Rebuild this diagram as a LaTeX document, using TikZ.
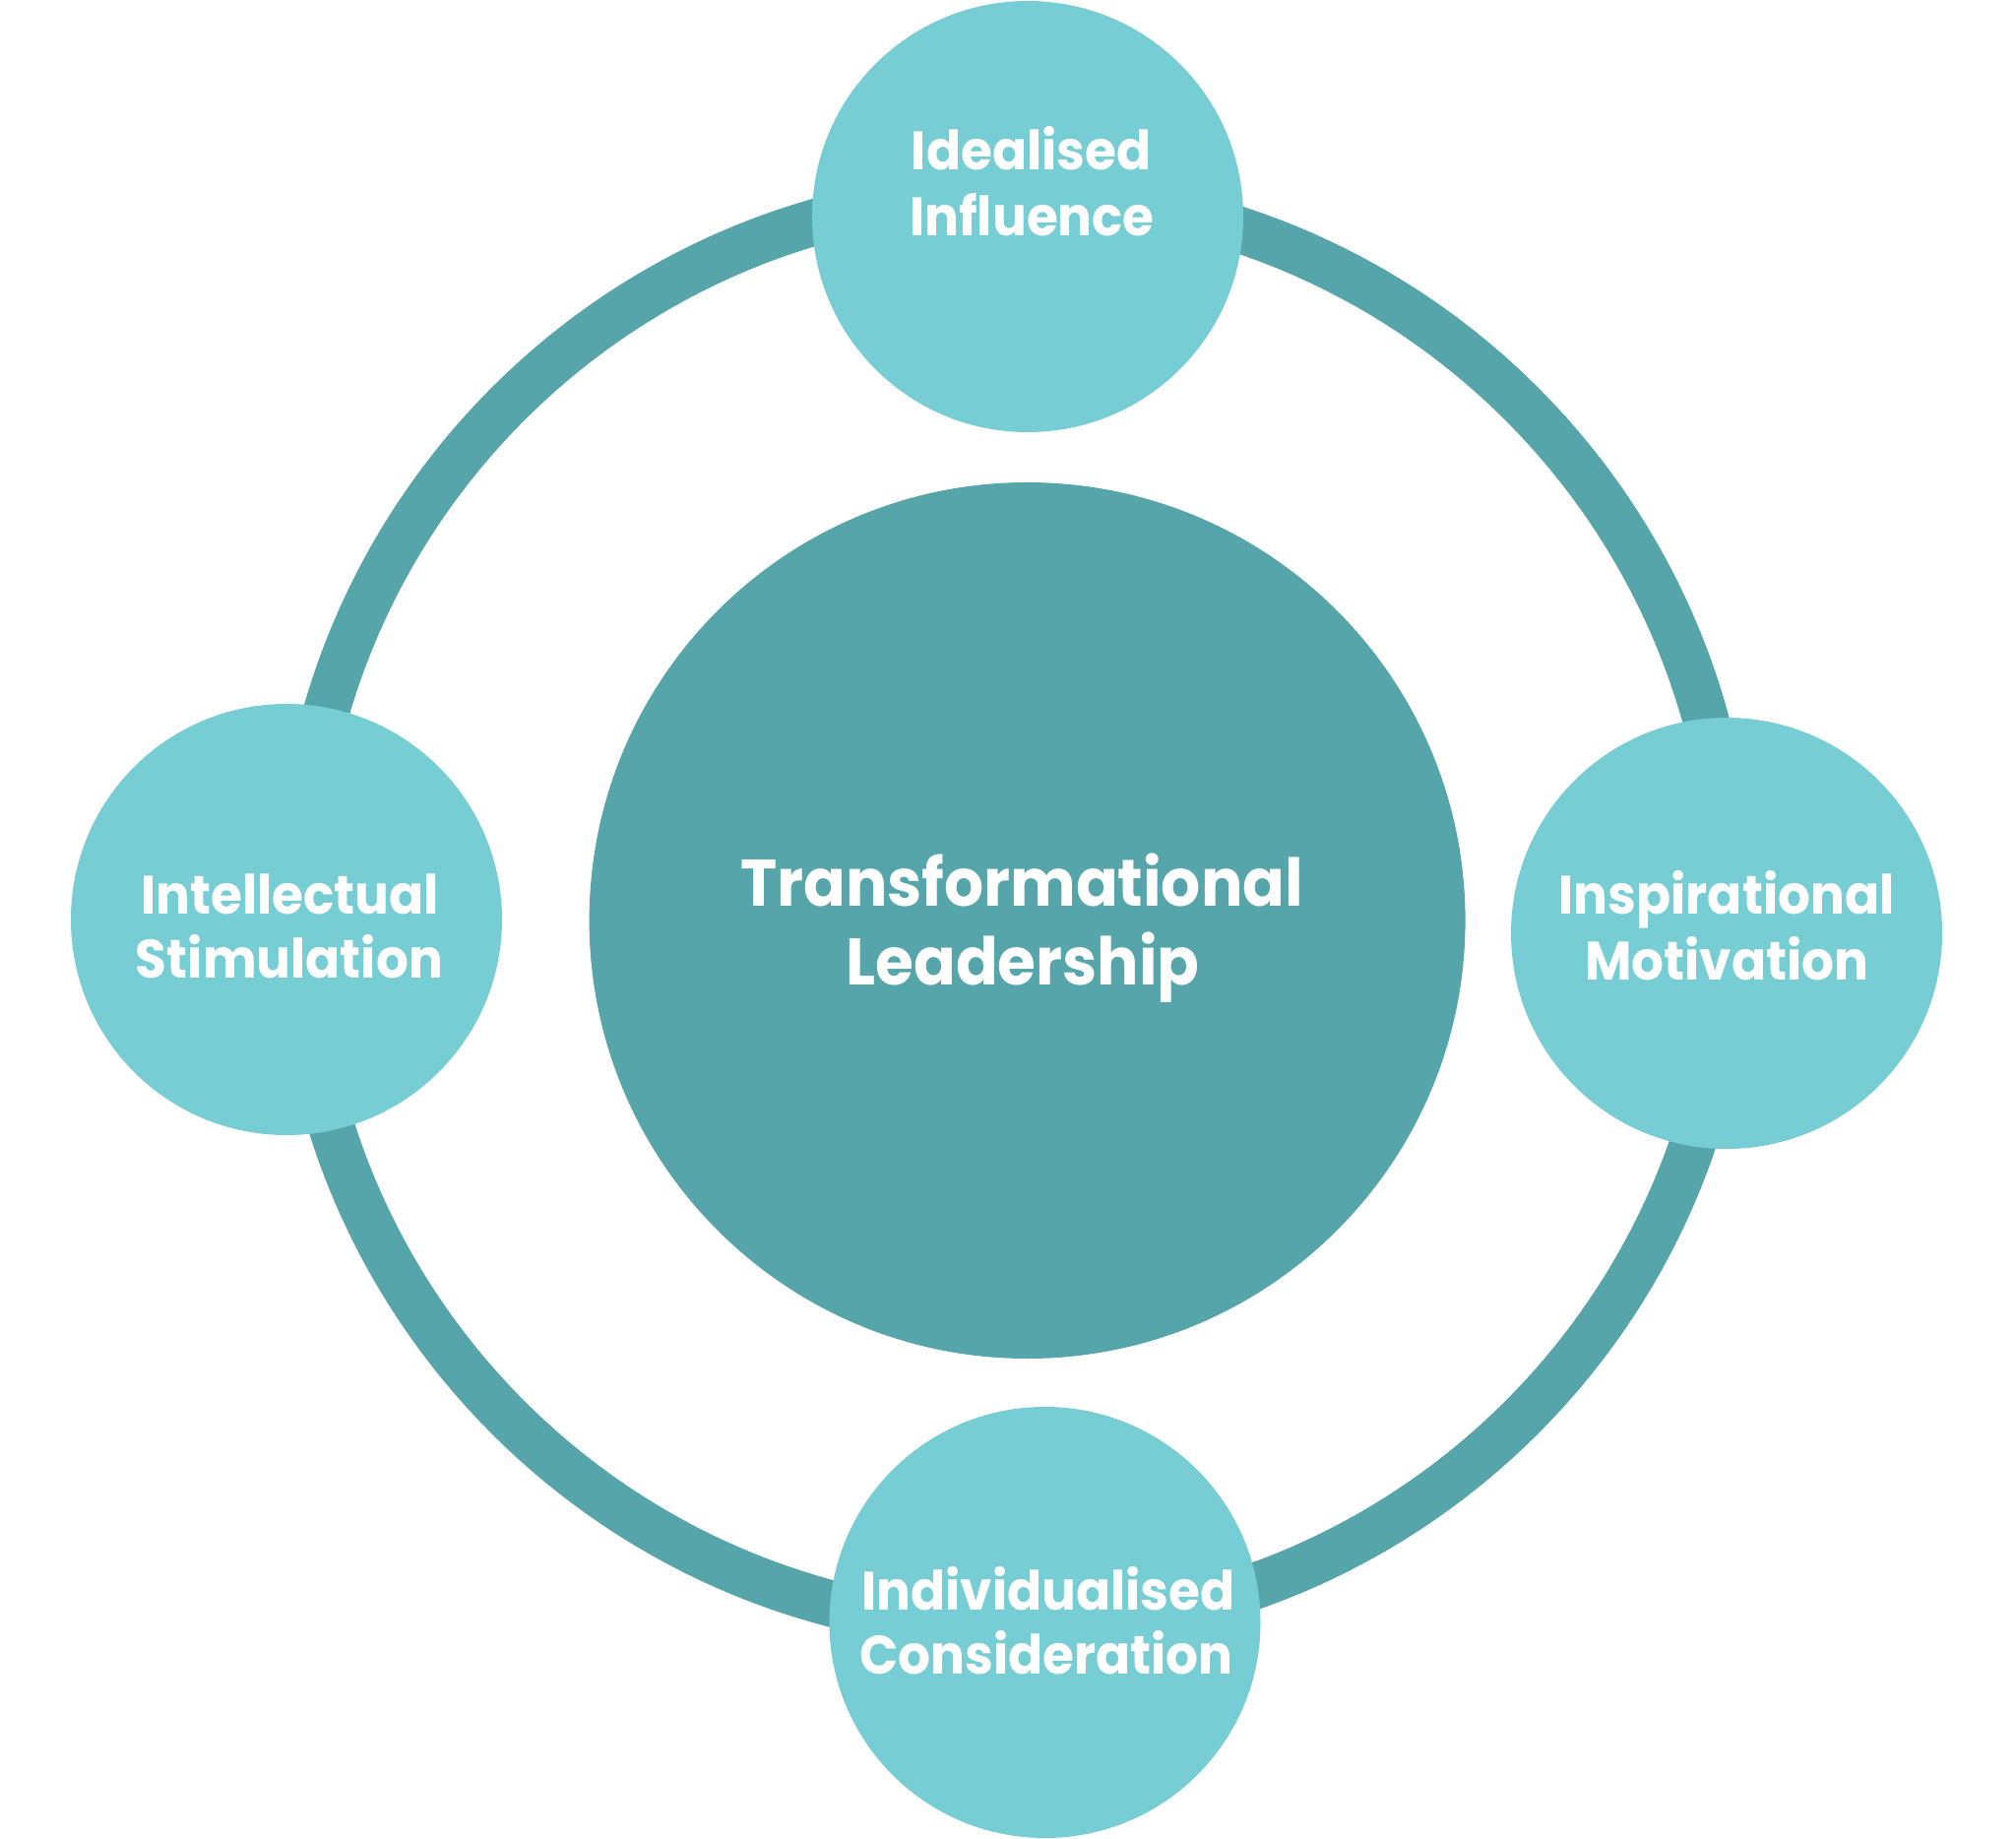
\documentclass[tikz,border=0pt]{standalone}
\usepackage{fontspec}
\setmainfont{Poppins}[FakeStretch=0.94]
\definecolor{darkteal}{RGB}{85,165,170}
\definecolor{lightteal}{RGB}{118,205,212}
\tikzset{
  sat/.style={circle, fill=lightteal, draw=none, minimum size=438pt, inner sep=0pt},
  core/.style={circle, fill=darkteal, draw=none, minimum size=890pt, inner sep=0pt},
  lbl/.style={anchor=base, text=white, inner sep=0pt, font=\fontsize{55}{66}\selectfont\bfseries},
  biglbl/.style={anchor=base, text=white, inner sep=0pt, font=\fontsize{67}{80}\selectfont\bfseries},
}
\begin{document}
\begin{tikzpicture}[x=1pt, y=-1pt]
\useasboundingbox (0,0) rectangle (2048,1868);
\draw[darkteal, line width=47pt] (1031,925) circle[radius=728pt];
\node[core] (tl) at (1043.6,935) {};
\node[sat] (ii) at (1044,220) {};
\node[sat] (im) at (1754,948) {};
\node[sat] (ic) at (1061.5,1648) {};
\node[sat] (is) at (291,934) {};
\node[biglbl] (tl1) at (1038,920) {Transformational};
\node[biglbl] (tl2) at (1039,1000) {Leadership};
\node[lbl] (ii1) at (1047.7,172.7) {Idealised};
\node[lbl] (ii2) at (1048.5,239.3) {Influence};
\node[lbl] (im1) at (1754,928.6) {Inspirational};
\node[lbl] (im2) at (1754.3,995) {Motivation};
\node[lbl] (ic1) at (1065,1635) {Individualised};
\node[lbl] (ic2) at (1063,1700) {Consideration};
\node[lbl] (is1) at (294.5,928.3) {Intellectual};
\node[lbl] (is2) at (294,993.3) {Stimulation};
\end{tikzpicture}
\end{document}
